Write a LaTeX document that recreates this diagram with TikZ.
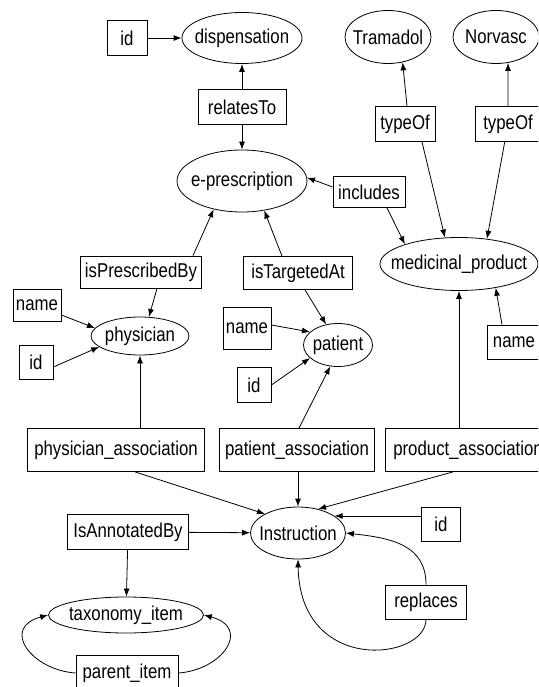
\documentclass[tikz,border=0pt]{standalone}
\usepackage{fontspec}
\setmainfont{Liberation Sans}[FakeStretch=0.84]
\usepackage{tikz}
\usetikzlibrary{shapes}
\usetikzlibrary{arrows.meta}

\tikzset{
	ent/.style={draw, ellipse, inner xsep=-90pt, inner ysep=-30pt}, % size from wh only
	rel/.style={draw, rectangle, inner sep=0pt},
	wh/.style 2 args={minimum width=#1, minimum height=#2}
}

\begin{document}
\begin{tikzpicture}[x=1pt, y=-1pt, line width=0.8pt, >={Latex[length=8pt,width=6pt]},
		font=\fontsize{20}{24}\selectfont]
				\useasboundingbox (0,0) rectangle (538,687);
				\clip (0,0) rectangle (538,687);
				\fill[white] (0,0) rectangle (538,687);

				\node[ent, wh={120}{51}] (disp) at (242,38) {dispensation};
				\node[rel, wh={40}{35}] (dispId) at (127,38) {id};
				\node[rel, wh={88}{35}] (relatesTo) at (242,107) {relatesTo};
				\node[ent, wh={130}{62}] (epres) at (242,181) {e-prescription};
				\node[ent, wh={86}{53}] (tramadol) at (388,37) {Tramadol};
				\node[ent, wh={86}{53}] (norvasc) at (496,37) {Norvasc};
				\node[rel, wh={60}{35}] (typeOfT) at (405,124) {typeOf};
				\node[rel, wh={66}{35}] (typeOfN) at (508,124) {typeOf};
				\node[rel, wh={72}{31}] (includes) at (369,192) {includes};
				\node[ent, wh={158}{53}] (medprod) at (459,264) {medicinal\_product};

				\node[rel, wh={121}{32}] (isPrescribedBy) at (141,272) {isPrescribedBy};
				\node[rel, wh={109}{33}] (isTargetedAt) at (298,273) {isTargetedAt};
				\node[rel, wh={48}{32}] (physName) at (37,305) {name};
				\node[rel, wh={34}{34}] (physId) at (36,362) {id};
				\node[ent, wh={98}{38}] (physician) at (140,336) {physician};
				\node[rel, wh={48}{42}] (patName) at (247,328) {name};
				\node[rel, wh={34}{35}] (patId) at (254,385) {id};
				\node[ent, wh={69}{43}] (patient) at (338,345) {patient};
				\node[rel, wh={54}{34}] (prodName) at (514,342) {name};

				\node[rel, wh={177}{43}] (physAssoc) at (116,450) {physician\_association};
				\node[rel, wh={155}{43}] (patAssoc) at (297,450) {patient\_association};
				\node[rel, wh={165}{43}] (prodAssoc) at (468,450) {product\_association};
				\node[ent, wh={95}{52}] (instruction) at (298,533) {Instruction};
				\node[rel, wh={39}{34}] (instrId) at (441,524) {id};
				\node[rel, wh={81}{34}] (replaces) at (426,602) {replaces};
				\node[rel, wh={121}{35}] (isAnnotatedBy) at (128,532) {IsAnnotatedBy};
				\node[ent, wh={155}{36}] (taxonomy) at (126,615) {taxonomy\_item};
				\node[rel, wh={102}{36}] (parentItem) at (127,673) {parent\_item};

				\draw[->] (dispId) -- (disp);
				\draw[->] (relatesTo) -- (disp);
				\draw[->] (relatesTo) -- (epres);
				\draw[->] ([xshift=2pt]typeOfT.north) -- (tramadol.-60);
				\draw[->] ([xshift=17pt]typeOfT.south) -- (medprod.118);
				\draw[->] (typeOfN) -- (norvasc.-65);
				\draw[->] (typeOfN) -- (medprod.42);
				\draw[->] ([yshift=5pt]includes.west) -- (epres.3);
				\draw[->] ([xshift=18pt]includes.south) -- (medprod.160);

				\draw[->] ([xshift=52pt]isPrescribedBy.north) -- (epres.225);
				\draw[->] ([xshift=16pt]isPrescribedBy.south) -- (physician.65);
				\draw[->] ([xshift=-16pt]isTargetedAt.north) -- (epres.-53);
				\draw[->] ([xshift=7pt]isTargetedAt.south) -- (patient.120);
				\draw[->] ([yshift=-10pt]physName.east) -- (physician.170);
				\draw[->] ([yshift=-5pt]physId.east) -- (physician.195);
				\draw[->] ([yshift=3pt]patName.east) -- (patient.155);
				\draw[->] (patId.east) -- (patient.205);
				\draw[->] ([xshift=-12pt]prodName.north) -- (medprod.-33);

				\draw[->] (physAssoc.north -| physician.south) -- (physician.south);
				\draw[->] ([xshift=19pt]physAssoc.south) -- (instruction.150);
				\draw[->] ([xshift=2pt]patAssoc.north) -- (patient.250);
				\draw[->] (patAssoc.south -| instruction.north) -- (instruction.north);
				\draw[->] (prodAssoc.north -| medprod.south) -- (medprod.south);
				\draw[->] ([xshift=-15pt]prodAssoc.south) -- (instruction.50);
				\draw[->] (instrId.west |- instruction.25) -- (instruction.25);
				\draw[->] (replaces.north) .. controls +(0,-40) and +(45,5) .. (instruction.east);
				\draw[->] (replaces.south) .. controls +(0,41) and +(2,116) .. (instruction.south);
				\draw[->] (isAnnotatedBy) -- (instruction);
				\draw[->] (isAnnotatedBy) -- (taxonomy);
				\draw[->] (parentItem.west) .. controls +(-44,-3) and +(-48,13) .. (taxonomy.west);
				\draw[->] (parentItem.east) .. controls +(44,-3) and +(48,13) .. (taxonomy.east);
			\end{tikzpicture}
\end{document}
